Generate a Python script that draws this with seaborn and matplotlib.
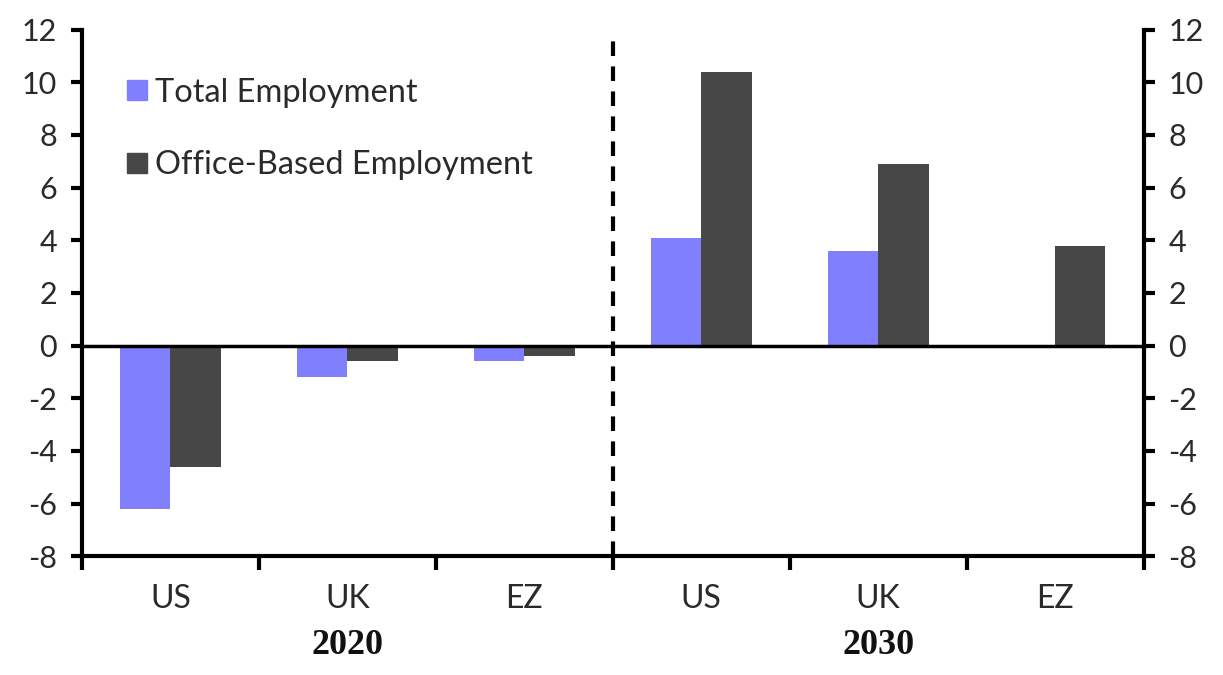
import numpy as np
import pandas as pd
import matplotlib
matplotlib.use("Agg")
import matplotlib.pyplot as plt
import matplotlib.transforms as mtransforms
from matplotlib.lines import Line2D
import seaborn as sns

# ─── Data ────────────────────────────────────────────────────────────
countries = ["US", "UK", "EZ", "US", "UK", "EZ"]
years = ["2020", "2020", "2020", "2030", "2030", "2030"]
total_employment = [-6.2, -1.2, -0.6, 4.1, 3.6, 0.0]
office_employment = [-4.6, -0.6, -0.4, 10.4, 6.9, 3.8]
series_names = ["Total Employment", "Office-Based Employment"]
year_labels = ["2020", "2030"]
y_ticks = [-8, -6, -4, -2, 0, 2, 4, 6, 8, 10, 12]

COLORS = ["#8080FF", "#474747"]
SANS = "Lato"
SERIF = "Liberation Serif"

slots = [f"{c} {y}" for c, y in zip(countries, years)]
df = pd.DataFrame({
    "slot": slots * 2,
    "series": [series_names[0]] * 6 + [series_names[1]] * 6,
    "value": total_employment + office_employment,
})

sns.set_style("white")
plt.rcParams["font.family"] = [SANS, "DejaVu Sans"]

fig = plt.figure(figsize=(12.23, 6.75), dpi=100)
ax = fig.add_axes([0.067, 0.176, 0.868, 0.780])

sns.barplot(data=df, x="slot", y="value", hue="series", order=slots,
            hue_order=series_names, palette=COLORS, width=0.57,
            saturation=1, errorbar=None, linewidth=0, ax=ax, legend=False)

ax.set_xlim(-0.5, 5.5)
ax.set_ylim(-8, 12)
ax.set_xlabel("")
ax.set_ylabel("")

# zero line and divider between the two years
ax.axhline(0, color="black", lw=2.5, zorder=3)
ax.axvline(2.5, ymin=0, ymax=0.98, color="black", lw=3,
           linestyle=(0, (3.5, 2.5)), zorder=3)

# spines
for side in ["left", "right", "bottom"]:
    ax.spines[side].set_visible(True)
    ax.spines[side].set_linewidth(3)
    ax.spines[side].set_color("black")
ax.spines["top"].set_visible(False)

# y ticks on both sides
ax.set_yticks(y_ticks)
ax.set_yticklabels([str(t) for t in y_ticks])
ax.tick_params(axis="y", which="major", left=True, right=True,
               labelleft=True, labelright=True, direction="out",
               length=8, width=3, color="black", labelsize=22,
               labelcolor="#2a2a2a", pad=10)

# category labels in the middle, tick marks at the boundaries
ax.set_xticks(range(len(slots)))
ax.set_xticklabels(countries)
ax.set_xticks(np.arange(-0.5, 6.0, 1.0), minor=True)
ax.tick_params(axis="x", which="major", length=0, labelsize=23,
               labelcolor="#2a2a2a", pad=20)
ax.tick_params(axis="x", which="minor", bottom=True, direction="out",
               length=10, width=3, color="black")

# year labels under each group
trans = mtransforms.blended_transform_factory(ax.transData, fig.transFigure)
for i, yr in enumerate(year_labels):
    ax.text(1 + 3 * i, 0.044, yr, transform=trans, ha="center", va="center",
            fontsize=26, fontweight="bold", family=SERIF, color="#111111")

# legend
handles = [Line2D([0], [0], marker="s", linestyle="none", markersize=14,
                  markerfacecolor=c, markeredgecolor=c) for c in COLORS]
ax.legend(handles, series_names, loc="upper left",
          bbox_to_anchor=(0.015, 0.965), frameon=False, fontsize=23.5,
          handlelength=0.6, handletextpad=0.25, labelspacing=1.3,
          labelcolor="#2a2a2a")

plt.savefig("out.png", dpi=100, facecolor="white")
plt.close()
